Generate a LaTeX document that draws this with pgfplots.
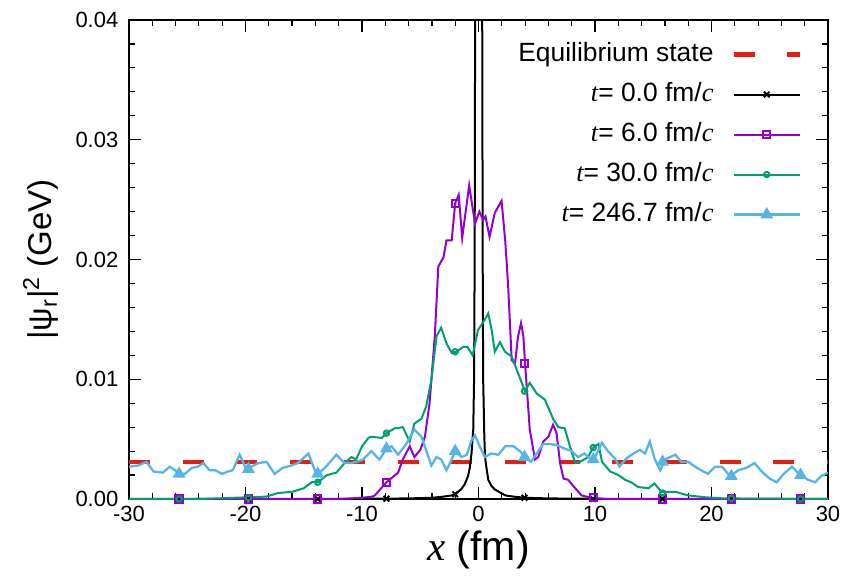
\documentclass[border=0pt]{standalone}
\usepackage{fontspec}
\setmainfont{Liberation Sans}
\newfontfamily\timesf{Liberation Serif}
\usepackage{pgfplots}
\pgfplotsset{compat=1.18}
\definecolor{cpurple}{HTML}{9400D3}
\definecolor{cgreen}{HTML}{009E73}
\definecolor{cblue}{HTML}{56B4E9}
\definecolor{cred}{HTML}{E51E10}
\newcommand{\ti}[1]{{\timesf\itshape #1}}
\pgfplotsset{
  marklegend/.style={legend image code/.code={\draw[##1] (0pt,0pt) -- (33pt,0pt); \draw[##1] plot coordinates {(16.5pt,0pt)};}},
  eqlegend/.style={legend image code/.code={\draw[##1] (0pt,0pt) -- (33pt,0pt);}},
}
\begin{document}
\begin{tikzpicture}
\begin{axis}[
  scale only axis, width=349.5pt, height=239.5pt,
  xmin=-30, xmax=30, ymin=0, ymax=0.04,
  xtick={-30,-20,-10,0,10,20,30},
  ytick={0,0.01,0.02,0.03,0.04},
  minor x tick num=4, minor y tick num=4,
  tick align=inside, tick pos=both,
  major tick length=6pt, minor tick length=3pt,
  every tick/.style={black, line width=0.6pt},
  axis line style={line width=0.75pt},
  /pgf/number format/assume math mode=true,
  tick label style={font=\fontsize{11}{13}\selectfont},
  y tick label style={xshift=-1.8pt, /pgf/number format/fixed, /pgf/number format/fixed zerofill, /pgf/number format/precision=2},
  scaled y ticks=false,
  xlabel={\ti{x} (fm)},
  ylabel={|ψ\textsubscript{r}|\textsuperscript{2} (GeV)},
  xlabel style={font=\fontsize{20.5}{24}\selectfont, at={(rel axis cs:0.5,-0.106)}, anchor=center},
  ylabel style={font=\fontsize{16.5}{20}\selectfont, at={(rel axis cs:-0.126,0.5)}, anchor=center},
  legend plot pos=right,
  legend cell align=right,
  legend style={draw=none, fill=none, at={(1,1)}, anchor=north east, xshift=-13pt, yshift=-10.75pt,
    inner sep=0pt, outer sep=0pt, font=\fontsize{13.2}{15}\selectfont,
    nodes={inner sep=0pt, text height=10pt, text depth=3pt}, row sep=7pt, column sep=9pt},
  clip=true,
]
% equilibrium
\addplot[cred, line width=2.25pt, dash pattern=on 10.5pt off 16.35pt, eqlegend]
  coordinates {(-30,0.0031) (30,0.0031)};
\addlegendentry{Equilibrium state}
% t = 0
\addplot[black, line width=1pt, forget plot] coordinates {
(-30,0) (-20,0.000005) (-12,0.00001) (-8,0.00003) (-6,0.00005) (-4,0.0001) (-3,0.0002) (-2.3,0.0003) (-2.0,0.0004) (-1.5,0.0008) (-1.2,0.0012) (-0.9,0.0019) (-0.75,0.0026) (-0.6,0.0038) (-0.45,0.0058) (-0.38,0.01) (-0.33,0.02) (-0.3,0.035) (-0.27,0.05) (-0.2,0.08) (0,0.1) (0.2,0.08) (0.3,0.05) (0.33,0.035) (0.36,0.02) (0.4,0.01) (0.5,0.0052) (0.56,0.0035) (0.7,0.0025) (0.84,0.0016) (1.1,0.0011) (1.4,0.0008) (2.3,0.0003) (3,0.0002) (4,0.0001) (6,0.00005) (8,0.00003) (12,0.00001) (30,0)
};
\addplot[black, line width=1pt, only marks, mark=x, mark size=2pt, marklegend]
  coordinates {(-25.7,0) (-19.75,0) (-13.8,0) (-7.9,0.00003) (-2.0,0.0004) (3.95,0.0001) (9.85,0) (15.8,0) (21.7,0) (27.65,0)};
\addlegendentry{\ti{t}= 0.0 fm/\ti{c}}
% t = 6
\addplot[cpurple, line width=1pt, forget plot] coordinates {
(-30,0) (-12,0) (-10,0.0001) (-9.1,0.0002) (-8.9,0.0003) (-7.9,0.0014) (-6.9,0.0022) (-6.5,0.0033) (-5.9,0.0044) (-5.5,0.0035) (-5.0,0.0041) (-4.6,0.0052) (-4.2,0.008) (-3.75,0.0136) (-3.45,0.0194) (-3.0,0.0202) (-2.75,0.0216) (-2.3,0.0216) (-2.0,0.0247) (-1.7,0.0254) (-1.4,0.0218) (-0.8,0.0262) (-0.3,0.023) (0.07,0.024) (0.4,0.0233) (0.6,0.0236) (0.95,0.0219) (1.4,0.0239) (1.98,0.0249) (2.3,0.0215) (2.55,0.0177) (2.85,0.0116) (3.13,0.0113) (3.4,0.0136) (3.65,0.0147) (3.85,0.0136) (4.0,0.0113) (4.4,0.0058) (4.85,0.0033) (5.13,0.0035) (5.56,0.0048) (6.0,0.0052) (6.4,0.0062) (6.7,0.0055) (7.0,0.003) (7.3,0.0017) (7.7,0.0016) (8.3,0.0009) (8.85,0.0003) (9.7,0.0001) (11,0) (30,0)
};
\addplot[cpurple, line width=1pt, only marks, mark=square, mark size=1.8pt, marklegend]
  coordinates {(-25.7,0) (-19.75,0) (-13.8,0) (-7.9,0.0014) (-2.0,0.0247) (3.95,0.0113) (9.85,0.0001) (15.8,0) (21.7,0) (27.65,0)};
\addlegendentry{\ti{t}= 6.0 fm/\ti{c}}
% t = 30
\addplot[cgreen, line width=1pt, forget plot] coordinates {
(-30,0) (-24,0) (-21,0.0001) (-18.2,0.0002) (-17.2,0.0005) (-16.0,0.0006) (-15.0,0.0009) (-14.3,0.0014) (-13.8,0.0014) (-13.0,0.002) (-12.2,0.0022) (-11.5,0.003) (-10.9,0.0035) (-10.5,0.0033) (-10.0,0.0044) (-9.45,0.0051) (-9.2,0.0052) (-8.3,0.0051) (-7.9,0.0055) (-7.2,0.0059) (-6.5,0.006) (-5.9,0.0048) (-5.5,0.0063) (-4.9,0.0067) (-4.5,0.0077) (-4.05,0.0099) (-3.6,0.0136) (-3.2,0.0143) (-2.75,0.013) (-2.3,0.0122) (-1.9,0.0123) (-1.3,0.0127) (-0.95,0.0127) (-0.5,0.012) (-0.05,0.0141) (0.5,0.0149) (0.84,0.0155) (1.13,0.0141) (1.4,0.0123) (1.84,0.0131) (2.27,0.0123) (2.85,0.0119) (3.4,0.0105) (3.99,0.009) (4.4,0.0097) (5.0,0.0088) (5.7,0.0083) (6.4,0.0067) (6.85,0.006) (7.4,0.0059) (7.85,0.0044) (8.3,0.003) (8.7,0.0031) (9.4,0.0035) (9.85,0.0043) (10.3,0.0046) (10.6,0.0031) (11.3,0.0023) (12.0,0.002) (12.6,0.0016) (13.1,0.0014) (13.7,0.001) (14.6,0.0009) (15.1,0.0013) (15.7,0.0006) (16.9,0.0006) (18.0,0.0003) (19.4,0.00015) (21,0.00005) (30,0)
};
\addplot[cgreen, line width=1pt, only marks, mark=o, mark size=1.35pt, marklegend]
  coordinates {(-25.7,0) (-19.75,0.0001) (-13.8,0.0014) (-7.9,0.0055) (-2.0,0.0123) (3.95,0.009) (9.85,0.0043) (15.8,0.0005) (21.7,0.00005) (27.65,0)};
\addlegendentry{\ti{t}= 30.0 fm/\ti{c}}
% t = 246.7
\addplot[cblue, line width=1.15pt, forget plot] coordinates {
(-30,0.0027) (-29.2,0.0028) (-28.5,0.0031) (-27.9,0.0023) (-27.1,0.0022) (-26.5,0.0027) (-25.6,0.0021) (-25.2,0.0021) (-24.6,0.0026) (-24.1,0.0027) (-23.6,0.003) (-23.1,0.0024) (-22.6,0.0024) (-22.0,0.0021) (-21.5,0.0023) (-21.1,0.0024) (-20.5,0.0037) (-19.9,0.0024) (-19.5,0.0027) (-18.9,0.003) (-18.2,0.0031) (-17.5,0.0021) (-16.8,0.0026) (-16.05,0.0028) (-15.5,0.003) (-14.6,0.0038) (-14.05,0.0024) (-13.75,0.0021) (-13.0,0.0028) (-12.2,0.0037) (-11.5,0.003) (-10.9,0.003) (-10.5,0.0031) (-9.9,0.0033) (-9.2,0.004) (-8.5,0.0033) (-7.9,0.0042) (-7.45,0.0044) (-6.9,0.0037) (-6.2,0.0046) (-5.5,0.0058) (-4.9,0.0052) (-4.5,0.0041) (-4.05,0.0028) (-3.6,0.0035) (-3.2,0.0033) (-2.75,0.0024) (-2.3,0.0033) (-2.0,0.004) (-1.45,0.0035) (-1.0,0.0037) (-0.6,0.0049) (-0.3,0.0053) (0.1,0.0044) (0.55,0.0035) (1.1,0.0038) (1.7,0.0037) (2.3,0.0044) (3.0,0.0044) (3.55,0.004) (4.0,0.0035) (4.5,0.0031) (5.0,0.0038) (5.55,0.0046) (6.1,0.0046) (6.7,0.0045) (7.4,0.0042) (8.0,0.004) (8.55,0.0035) (9.1,0.0038) (9.55,0.0034) (9.9,0.0033) (10.6,0.0047) (11.1,0.004) (11.7,0.0034) (12.1,0.0027) (12.7,0.0034) (13.3,0.0038) (13.85,0.0041) (14.3,0.0038) (14.7,0.0048) (15.1,0.0034) (15.6,0.0024) (16.0,0.0033) (16.9,0.0037) (17.4,0.0031) (18.0,0.0031) (18.6,0.0027) (19.1,0.0024) (19.7,0.0021) (20.3,0.0027) (20.9,0.0027) (21.6,0.0019) (22.3,0.0024) (23.0,0.0026) (23.7,0.003) (24.3,0.0023) (25.0,0.0017) (25.6,0.0014) (26.2,0.0021) (26.9,0.0027) (27.6,0.002) (28.3,0.0016) (28.9,0.0014) (29.4,0.0019) (30.0,0.0022)
};
\addplot[cblue, line width=1.15pt, only marks, mark=triangle*, mark size=2.6pt, marklegend]
  coordinates {(-25.7,0.0021) (-19.75,0.0025) (-13.8,0.0021) (-7.9,0.0042) (-2.0,0.004) (3.95,0.0035) (9.85,0.0033) (15.8,0.0031) (21.7,0.0019) (27.65,0.002)};
\addlegendentry{\ti{t}= 246.7 fm/\ti{c}}
\end{axis}
\path ([shift={(-64.5pt,-39pt)}]current axis.south west) rectangle ([shift={(10.5pt,10pt)}]current axis.north east);
\end{tikzpicture}
\end{document}
